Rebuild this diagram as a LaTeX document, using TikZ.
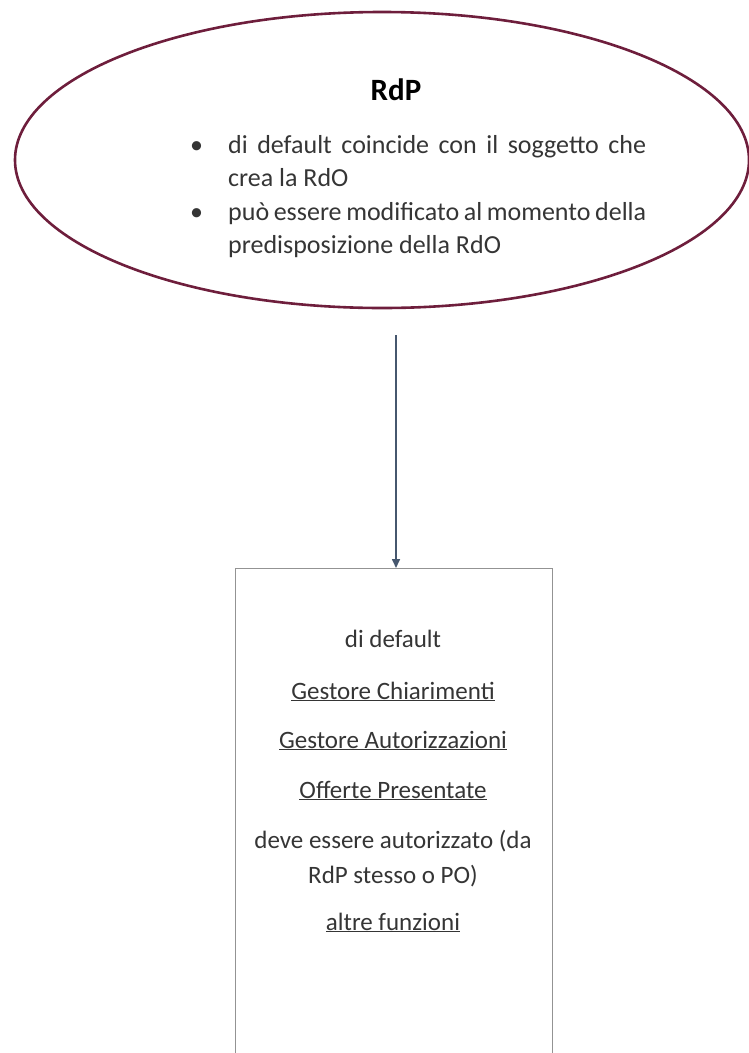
\documentclass[tikz,border=0pt]{standalone}
\usepackage{fontspec}
\setmainfont{Carlito}
\usetikzlibrary{shapes.geometric,arrows.meta,positioning}

\definecolor{rdpbordo}{HTML}{6E1E3C}
\definecolor{frecciablu}{HTML}{46576E}
\definecolor{testogrigio}{HTML}{353535}

\tikzset{
  ovale/.style={ellipse, draw=rdpbordo, line width=2.6pt, minimum width=734pt, minimum height=296pt, inner sep=0pt},
  voce/.style={text width=418pt, align=justify, anchor=base west, inner sep=0pt, text=testogrigio, font=\fontsize{26}{33.3}\selectfont},
  pallino/.style={anchor=base west, inner sep=0pt, text=testogrigio, font=\fontsize{26}{33.3}\selectfont},
  riga/.style={inner sep=0pt, anchor=base, text=testogrigio, font=\fontsize{25}{33}\selectfont},
}

\begin{document}
\begin{tikzpicture}[x=1pt, y=1pt]
\useasboundingbox (0,0) rectangle (748,-1053);

% --- ovale RdP ---
\node[ovale] (rdp) at (382,-160) {};
\node[anchor=base, inner sep=0pt, font=\fontsize{31}{36}\selectfont\bfseries] (titolo) at (396,-100) {RdP};

% punti elenco
\node[pallino] (b1) at (190,-153) {\textbullet};
\node[voce] (v1) at (228,-153) {di default coincide con il soggetto che\linebreak crea la RdO};
\node[pallino] (b2) at (190,-220) {\textbullet};
\node[voce] (v2) at (228,-220) {può essere modificato al momento della\linebreak predisposizione della RdO};

% --- riquadro funzioni ---
\node[draw=gray!85, line width=0.8pt, minimum width=317pt, minimum height=520pt, anchor=north, inner sep=0pt] (ruoli) at (393.5,-568) {};

\draw[-{Triangle[length=9pt,width=8pt]}, frecciablu, line width=1.6pt] (396,-335) -- (ruoli.north -| 396,0);

\node[riga] (r1) at (393,-647) {di default};
\node[riga] (r2) at (393,-699) {\underline{Gestore Chiarimenti}};
\node[riga] (r3) at (393,-748) {\underline{Gestore Autorizzazioni}};
\node[riga] (r4) at (393,-798) {\underline{Offerte Presentate}};
\node[riga] (r5) at (393,-848) {deve essere autorizzato (da};
\node[riga] (r5b) at (393,-883) {RdP stesso o PO)};
\node[riga] (r6) at (393,-930) {\underline{altre funzioni}};

\end{tikzpicture}
\end{document}
